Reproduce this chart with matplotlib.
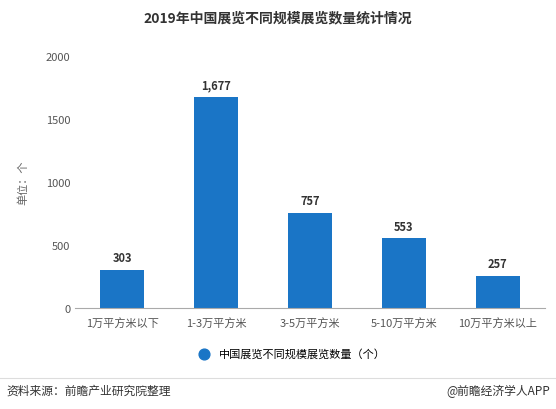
import matplotlib
matplotlib.use("Agg")
import matplotlib.pyplot as plt

plt.rcParams['font.family'] = ['Noto Sans CJK SC', 'DejaVu Sans']

categories = ["1万平方米以下", "1-3万平方米", "3-5万平方米", "5-10万平方米", "10万平方米以上"]
values = [303, 1677, 757, 553, 257]
labels = ["303", "1,677", "757", "553", "257"]
color = "#1a75c6"

fig = plt.figure(figsize=(5.56, 4.10), dpi=100)
ax = fig.add_axes([0.135, 0.246, 0.845, 0.615])
ax.bar(range(len(values)), values, width=0.47, color=color)
for i, (v, t) in enumerate(zip(values, labels)):
    ax.text(i, v + 45, t, ha="center", va="bottom", fontsize=8, fontweight="bold", color="#333333")

ax.set_ylim(0, 2000)
ax.set_yticks([0, 500, 1000, 1500, 2000])
ax.set_xlim(-0.5, 4.5)
ax.set_xticks(range(len(values)))
ax.set_xticklabels(categories)
ax.tick_params(axis="both", labelsize=8, colors="#555555", length=0)
ax.tick_params(axis="x", pad=6)
for s in ["top", "right", "left"]:
    ax.spines[s].set_visible(False)
ax.spines["bottom"].set_color("#aaaaaa")
ax.set_ylabel("单位：个", fontsize=8, color="#666666")
ax.yaxis.set_label_coords(-0.1, 0.5)

fig.text(0.5, 0.955, "2019年中国展览不同规模展览数量统计情况", ha="center", va="center",
         fontsize=10, fontweight="bold", color="#333333")

ax.scatter([], [], s=60, color=color, label="中国展览不同规模展览数量（个）")
fig.legend(loc="center", bbox_to_anchor=(0.52, 0.135), frameon=False, fontsize=8,
           handletextpad=0.3)

fig.add_artist(plt.Line2D([0.0, 1.0], [0.075, 0.075], color="#dddddd", lw=0.8))
fig.text(0.012, 0.045, "资料来源：前瞻产业研究院整理", fontsize=8.5, color="#333333", va="center")
fig.text(0.99, 0.045, "@前瞻经济学人APP", fontsize=8.5, color="#333333", va="center", ha="right")

fig.savefig("out.png", dpi=100)
